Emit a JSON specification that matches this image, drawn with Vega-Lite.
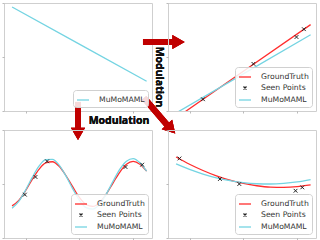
{
  "$schema": "https://vega.github.io/schema/vega-lite/v6.json",
  "padding": {"left": 1, "top": 2, "right": 2, "bottom": 1},
  "bounds": "flush",
  "columns": 2,
  "spacing": {"row": 19, "column": 16},
  "resolve": {"scale": {"color": "independent", "shape": "independent"}},
  "config": {
    "view": {"stroke": "#cfcfcf", "strokeWidth": 1},
    "axis": {"labels": false, "domain": false, "grid": false, "ticks": true, "tickSize": 2, "tickColor": "#aaaaaa", "tickWidth": 0.8},
    "legend": {"orient": "bottom-right", "offset": 4, "padding": 3, "cornerRadius": 3, "fillColor": "rgba(255,255,255,0.85)", "strokeColor": "#d0d0d0", "labelFont": "DejaVu Sans", "labelFontSize": 7.7, "labelColor": "#333333", "symbolSize": 144, "symbolStrokeWidth": 1.3, "rowPadding": 0, "labelOffset": 9}
  },
  "concat": [
    {
      "width": 148, "height": 108,
      "data": {"values": [
        {"x": -5, "y": 3.7, "series": "MuMoMAML"},
        {"x": 0, "y": 0.95, "series": "MuMoMAML"},
        {"x": 5, "y": -1.8, "series": "MuMoMAML"}
      ]},
      "layer": [
        {
          "mark": {"type": "line", "strokeWidth": 1.3, "clip": true},
          "encoding": {
            "x": {"field": "x", "type": "quantitative", "scale": {"domain": [-5.6, 5.4]}, "axis": {"values": [-4, -2, 0, 2, 4]}, "title": null},
            "y": {"field": "y", "type": "quantitative", "scale": {"domain": [-4, 4]}, "axis": {"values": [-4, -3, -2, -1, 0, 1, 2, 3, 4]}, "title": null},
            "color": {"field": "series", "type": "nominal", "scale": {"domain": ["MuMoMAML"], "range": ["#74d4e2"]}, "legend": {"title": null, "symbolType": "stroke"}}
          }
        },
        {
          "mark": {"type": "rule", "color": "#c00000", "strokeWidth": 6},
          "encoding": {
            "x": {"datum": 4.73, "type": "quantitative", "scale": {"domain": [-5.6, 5.4]}},
            "x2": {"datum": 7.11},
            "y": {"datum": 1.11, "type": "quantitative", "scale": {"domain": [-4, 4]}}
          }
        },
        {
          "mark": {"type": "point", "shape": "triangle-right", "filled": true, "color": "#c00000", "size": 200, "opacity": 1},
          "encoding": {
            "x": {"datum": 7.37, "type": "quantitative", "scale": {"domain": [-5.6, 5.4]}},
            "y": {"datum": 1.11, "type": "quantitative", "scale": {"domain": [-4, 4]}}
          }
        },
        {
          "mark": {"type": "rule", "color": "#c00000", "strokeWidth": 6},
          "encoding": {
            "x": {"datum": -0.1, "type": "quantitative", "scale": {"domain": [-5.6, 5.4]}},
            "y": {"datum": -3.33, "type": "quantitative", "scale": {"domain": [-4, 4]}},
            "y2": {"datum": -5.56}
          }
        },
        {
          "mark": {"type": "point", "shape": "triangle-down", "filled": true, "color": "#c00000", "size": 200, "opacity": 1},
          "encoding": {
            "x": {"datum": -0.1, "type": "quantitative", "scale": {"domain": [-5.6, 5.4]}},
            "y": {"datum": -5.7, "type": "quantitative", "scale": {"domain": [-4, 4]}}
          }
        },
        {
          "mark": {"type": "rule", "color": "#c00000", "strokeWidth": 6},
          "encoding": {
            "x": {"datum": 4.81, "type": "quantitative", "scale": {"domain": [-5.6, 5.4]}},
            "y": {"datum": -3.04, "type": "quantitative", "scale": {"domain": [-4, 4]}},
            "x2": {"datum": 6.59},
            "y2": {"datum": -5.11}
          }
        },
        {
          "mark": {"type": "point", "shape": "triangle-right", "filled": true, "color": "#c00000", "size": 200, "opacity": 1, "angle": 47.5},
          "encoding": {
            "x": {"datum": 6.82, "type": "quantitative", "scale": {"domain": [-5.6, 5.4]}},
            "y": {"datum": -5.33, "type": "quantitative", "scale": {"domain": [-4, 4]}}
          }
        },
        {
          "mark": {"type": "text", "text": "Modulation", "font": "Open Sans", "fontWeight": "bold", "fontSize": 10.5, "color": "#111111", "angle": 90, "align": "center", "baseline": "middle"},
          "encoding": {
            "x": {"datum": 5.92, "type": "quantitative", "scale": {"domain": [-5.6, 5.4]}},
            "y": {"datum": -1.48, "type": "quantitative", "scale": {"domain": [-4, 4]}}
          }
        },
        {
          "mark": {"type": "text", "text": "Modulation", "font": "Open Sans", "fontWeight": "bold", "fontSize": 10.5, "color": "#111111", "align": "center", "baseline": "middle"},
          "encoding": {
            "x": {"datum": 2.95, "type": "quantitative", "scale": {"domain": [-5.6, 5.4]}},
            "y": {"datum": -4.74, "type": "quantitative", "scale": {"domain": [-4, 4]}}
          }
        }
      ]
    },
    {
      "width": 148, "height": 108,
      "data": {"values": [
        {"x": -5, "y": -4.52, "series": "GroundTruth"},
        {"x": 0, "y": -1.06, "series": "GroundTruth"},
        {"x": 5, "y": 2.4, "series": "GroundTruth"},
        {"x": -5, "y": -4.15, "series": "MuMoMAML"},
        {"x": 0, "y": -1.25, "series": "MuMoMAML"},
        {"x": 5, "y": 1.65, "series": "MuMoMAML"},
        {"x": -3.0, "y": -3.13, "series": "Seen Points"},
        {"x": 0.75, "y": -0.51, "series": "Seen Points"},
        {"x": 3.95, "y": 1.48, "series": "Seen Points"},
        {"x": 4.5, "y": 2.06, "series": "Seen Points"}
      ]},
      "layer": [
        {
          "transform": [{"filter": "datum.series !== 'Seen Points'"}],
          "mark": {"type": "line", "strokeWidth": 1.3, "clip": true},
          "encoding": {
            "x": {"field": "x", "type": "quantitative", "scale": {"domain": [-5.6, 5.4]}, "axis": {"values": [-4, -2, 0, 2, 4]}, "title": null},
            "y": {"field": "y", "type": "quantitative", "scale": {"domain": [-4, 4]}, "axis": {"values": [-4, -3, -2, -1, 0, 1, 2, 3, 4]}, "title": null},
            "color": {"field": "series", "type": "nominal", "scale": {"domain": ["GroundTruth", "Seen Points", "MuMoMAML"], "range": ["#ff2d2d", "#222222", "#74d4e2"]}, "legend": {"title": null}}
          }
        },
        {
          "transform": [{"filter": "datum.series === 'Seen Points'"}],
          "mark": {"type": "point", "filled": false, "strokeWidth": 1, "size": 225, "opacity": 1},
          "encoding": {
            "x": {"field": "x", "type": "quantitative", "scale": {"domain": [-5.6, 5.4]}},
            "y": {"field": "y", "type": "quantitative", "scale": {"domain": [-4, 4]}},
            "color": {"field": "series", "type": "nominal", "scale": {"domain": ["GroundTruth", "Seen Points", "MuMoMAML"], "range": ["#ff2d2d", "#222222", "#74d4e2"]}, "legend": {"title": null}},
            "shape": {"field": "series", "type": "nominal", "scale": {"domain": ["GroundTruth", "Seen Points", "MuMoMAML"], "range": ["stroke", "M-0.25,-0.25L0.25,0.25M-0.25,0.25L0.25,-0.25", "stroke"]}, "legend": {"title": null}}
          }
        }
      ]
    },
    {
      "width": 148, "height": 108,
      "data": {"values": [
        {"x": -5, "y": -1.62, "series": "GroundTruth"},
        {"x": -4.5, "y": -1.21, "series": "GroundTruth"},
        {"x": -4, "y": -0.5, "series": "GroundTruth"},
        {"x": -3.5, "y": 0.34, "series": "GroundTruth"},
        {"x": -3, "y": 1.09, "series": "GroundTruth"},
        {"x": -2.5, "y": 1.57, "series": "GroundTruth"},
        {"x": -2, "y": 1.65, "series": "GroundTruth"},
        {"x": -1.5, "y": 1.31, "series": "GroundTruth"},
        {"x": -1, "y": 0.63, "series": "GroundTruth"},
        {"x": -0.5, "y": -0.2, "series": "GroundTruth"},
        {"x": 0, "y": -0.99, "series": "GroundTruth"},
        {"x": 0.5, "y": -1.52, "series": "GroundTruth"},
        {"x": 1, "y": -1.66, "series": "GroundTruth"},
        {"x": 1.5, "y": -1.38, "series": "GroundTruth"},
        {"x": 2, "y": -0.75, "series": "GroundTruth"},
        {"x": 2.5, "y": 0.07, "series": "GroundTruth"},
        {"x": 3, "y": 0.87, "series": "GroundTruth"},
        {"x": 3.5, "y": 1.46, "series": "GroundTruth"},
        {"x": 4, "y": 1.67, "series": "GroundTruth"},
        {"x": 4.5, "y": 1.46, "series": "GroundTruth"},
        {"x": 5, "y": 0.95, "series": "GroundTruth"},
        {"x": -5, "y": -1.79, "series": "MuMoMAML"},
        {"x": -4.5, "y": -1.29, "series": "MuMoMAML"},
        {"x": -4, "y": -0.46, "series": "MuMoMAML"},
        {"x": -3.5, "y": 0.49, "series": "MuMoMAML"},
        {"x": -3, "y": 1.32, "series": "MuMoMAML"},
        {"x": -2.5, "y": 1.8, "series": "MuMoMAML"},
        {"x": -2, "y": 1.83, "series": "MuMoMAML"},
        {"x": -1.5, "y": 1.4, "series": "MuMoMAML"},
        {"x": -1, "y": 0.6, "series": "MuMoMAML"},
        {"x": -0.5, "y": -0.34, "series": "MuMoMAML"},
        {"x": 0, "y": -1.2, "series": "MuMoMAML"},
        {"x": 0.5, "y": -1.75, "series": "MuMoMAML"},
        {"x": 1, "y": -1.86, "series": "MuMoMAML"},
        {"x": 1.5, "y": -1.5, "series": "MuMoMAML"},
        {"x": 2, "y": -0.75, "series": "MuMoMAML"},
        {"x": 2.5, "y": 0.19, "series": "MuMoMAML"},
        {"x": 3, "y": 1.08, "series": "MuMoMAML"},
        {"x": 3.5, "y": 1.69, "series": "MuMoMAML"},
        {"x": 4, "y": 1.88, "series": "MuMoMAML"},
        {"x": 4.5, "y": 1.58, "series": "MuMoMAML"},
        {"x": 5, "y": 0.95, "series": "MuMoMAML"},
        {"x": -4.05, "y": -0.79, "series": "Seen Points"},
        {"x": -3.26, "y": 0.52, "series": "Seen Points"},
        {"x": -2.4, "y": 1.68, "series": "Seen Points"},
        {"x": 3.43, "y": 1.26, "series": "Seen Points"},
        {"x": 4.67, "y": 1.43, "series": "Seen Points"}
      ]},
      "layer": [
        {
          "transform": [{"filter": "datum.series !== 'Seen Points'"}],
          "mark": {"type": "line", "strokeWidth": 1.3, "clip": true, "interpolate": "monotone"},
          "encoding": {
            "x": {"field": "x", "type": "quantitative", "scale": {"domain": [-5.6, 5.4]}, "axis": {"values": [-4, -2, 0, 2, 4]}, "title": null},
            "y": {"field": "y", "type": "quantitative", "scale": {"domain": [-4, 4]}, "axis": {"values": [-4, -3, -2, -1, 0, 1, 2, 3, 4]}, "title": null},
            "color": {"field": "series", "type": "nominal", "scale": {"domain": ["GroundTruth", "Seen Points", "MuMoMAML"], "range": ["#ff2d2d", "#222222", "#74d4e2"]}, "legend": {"title": null}}
          }
        },
        {
          "transform": [{"filter": "datum.series === 'Seen Points'"}],
          "mark": {"type": "point", "filled": false, "strokeWidth": 1, "size": 225, "opacity": 1},
          "encoding": {
            "x": {"field": "x", "type": "quantitative", "scale": {"domain": [-5.6, 5.4]}},
            "y": {"field": "y", "type": "quantitative", "scale": {"domain": [-4, 4]}},
            "color": {"field": "series", "type": "nominal", "scale": {"domain": ["GroundTruth", "Seen Points", "MuMoMAML"], "range": ["#ff2d2d", "#222222", "#74d4e2"]}, "legend": {"title": null}},
            "shape": {"field": "series", "type": "nominal", "scale": {"domain": ["GroundTruth", "Seen Points", "MuMoMAML"], "range": ["stroke", "M-0.25,-0.25L0.25,0.25M-0.25,0.25L0.25,-0.25", "stroke"]}, "legend": {"title": null}}
          }
        }
      ]
    },
    {
      "width": 148, "height": 108,
      "data": {"values": [
        {"x": -5, "y": 2.0, "series": "GroundTruth"},
        {"x": -4, "y": 1.46, "series": "GroundTruth"},
        {"x": -3, "y": 1.0, "series": "GroundTruth"},
        {"x": -2, "y": 0.6, "series": "GroundTruth"},
        {"x": -1, "y": 0.28, "series": "GroundTruth"},
        {"x": 0, "y": 0.04, "series": "GroundTruth"},
        {"x": 1, "y": -0.13, "series": "GroundTruth"},
        {"x": 2, "y": -0.23, "series": "GroundTruth"},
        {"x": 3, "y": -0.25, "series": "GroundTruth"},
        {"x": 4, "y": -0.2, "series": "GroundTruth"},
        {"x": 5, "y": -0.07, "series": "GroundTruth"},
        {"x": -5, "y": 1.49, "series": "MuMoMAML"},
        {"x": -4, "y": 1.08, "series": "MuMoMAML"},
        {"x": -3, "y": 0.74, "series": "MuMoMAML"},
        {"x": -2, "y": 0.46, "series": "MuMoMAML"},
        {"x": -1, "y": 0.25, "series": "MuMoMAML"},
        {"x": 0, "y": 0.1, "series": "MuMoMAML"},
        {"x": 1, "y": 0.02, "series": "MuMoMAML"},
        {"x": 2, "y": 0.0, "series": "MuMoMAML"},
        {"x": 3, "y": 0.05, "series": "MuMoMAML"},
        {"x": 4, "y": 0.16, "series": "MuMoMAML"},
        {"x": 5, "y": 0.33, "series": "MuMoMAML"},
        {"x": -4.75, "y": 1.89, "series": "Seen Points"},
        {"x": -1.74, "y": 0.37, "series": "Seen Points"},
        {"x": -0.3, "y": 0.0, "series": "Seen Points"},
        {"x": 3.88, "y": -0.5, "series": "Seen Points"},
        {"x": 4.38, "y": -0.25, "series": "Seen Points"}
      ]},
      "layer": [
        {
          "transform": [{"filter": "datum.series !== 'Seen Points'"}],
          "mark": {"type": "line", "strokeWidth": 1.3, "clip": true, "interpolate": "monotone"},
          "encoding": {
            "x": {"field": "x", "type": "quantitative", "scale": {"domain": [-5.6, 5.4]}, "axis": {"values": [-4, -2, 0, 2, 4]}, "title": null},
            "y": {"field": "y", "type": "quantitative", "scale": {"domain": [-4, 4]}, "axis": {"values": [-4, -3, -2, -1, 0, 1, 2, 3, 4]}, "title": null},
            "color": {"field": "series", "type": "nominal", "scale": {"domain": ["GroundTruth", "Seen Points", "MuMoMAML"], "range": ["#ff2d2d", "#222222", "#74d4e2"]}, "legend": {"title": null}}
          }
        },
        {
          "transform": [{"filter": "datum.series === 'Seen Points'"}],
          "mark": {"type": "point", "filled": false, "strokeWidth": 1, "size": 225, "opacity": 1},
          "encoding": {
            "x": {"field": "x", "type": "quantitative", "scale": {"domain": [-5.6, 5.4]}},
            "y": {"field": "y", "type": "quantitative", "scale": {"domain": [-4, 4]}},
            "color": {"field": "series", "type": "nominal", "scale": {"domain": ["GroundTruth", "Seen Points", "MuMoMAML"], "range": ["#ff2d2d", "#222222", "#74d4e2"]}, "legend": {"title": null}},
            "shape": {"field": "series", "type": "nominal", "scale": {"domain": ["GroundTruth", "Seen Points", "MuMoMAML"], "range": ["stroke", "M-0.25,-0.25L0.25,0.25M-0.25,0.25L0.25,-0.25", "stroke"]}, "legend": {"title": null}}
          }
        }
      ]
    }
  ]
}
